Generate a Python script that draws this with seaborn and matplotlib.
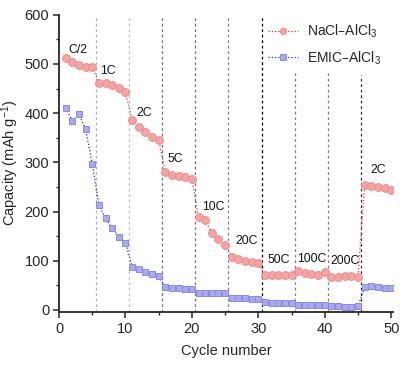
import matplotlib
matplotlib.use("Agg")
import matplotlib.pyplot as plt
from matplotlib.ticker import MultipleLocator
import seaborn as sns
import pandas as pd

# capacity, 5 cycles per C-rate
cycles = list(range(1, 51))
nacl = [513, 504, 498, 493, 494, 462, 461, 457, 452, 443,
        386, 372, 361, 352, 346, 280, 275, 273, 270, 267,
        188, 182, 156, 144, 132, 108, 103, 100, 98, 95,
        72, 72, 71, 71, 72, 79, 75, 73, 72, 77,
        67, 66, 68, 70, 66, 254, 251, 249, 247, 243]
emic = [410, 385, 399, 367, 297, 213, 186, 166, 149, 137,
        88, 83, 78, 73, 69, 47, 45, 44, 43, 42,
        34, 34, 34, 34, 34, 24, 24, 24, 23, 23,
        16, 15, 15, 15, 15, 10, 10, 10, 10, 10,
        8, 7, 6, 6, 7, 47, 49, 47, 45, 44]
rates = ["C/2", "1C", "2C", "5C", "10C", "20C", "50C", "100C", "200C", "2C"]
boundaries = [5.5, 10.5, 15.5, 20.5, 25.5, 30.5, 35.5, 40.5, 45.5]

df = pd.DataFrame({"cycle": cycles, "nacl": nacl, "emic": emic})

sns.set_style("ticks")
plt.rcParams["font.family"] = ["Liberation Sans", "DejaVu Sans"]
plt.rcParams["mathtext.default"] = "regular"

fig = plt.figure(figsize=(4.13, 3.70), dpi=100)
ax = fig.add_axes([0.143, 0.157, 0.809, 0.803])

# rate-change separators
sep_colors = ["#b0b0b0", "#c0c0c0", "#707070", "#707070", "#808080",
              "#000000", "#808080", "#808080", "#303030"]
sep_tops = [600, 600, 600, 600, 600, 600, 488, 486, 478]
for xb, c, top in zip(boundaries, sep_colors, sep_tops):
    ax.vlines(xb, -4, top, colors=c, linestyles=(0, (2.2, 2.2)), linewidth=0.9, zorder=1)

sns.lineplot(data=df, x="cycle", y="nacl", ax=ax, color="#e03a3a",
             linestyle=(0, (1, 1.6)), linewidth=0.9, marker="o", markersize=5.6,
             markerfacecolor="#f6a3a3", markeredgecolor="#ee8a8a", markeredgewidth=0.7,
             label="NaCl–AlCl$_3$", zorder=3)
sns.lineplot(data=df, x="cycle", y="emic", ax=ax, color="#2a2ad8",
             linestyle=(0, (1, 1.6)), linewidth=0.9, marker="s", markersize=5.0,
             markerfacecolor="#a9a9f3", markeredgecolor="#8a8ae8", markeredgewidth=0.7,
             label="EMIC–AlCl$_3$", zorder=3)

# rate labels
label_pos = [(2.9, 529), (7.4, 486), (12.9, 400), (17.5, 307), (23.3, 209),
             (28.3, 141), (33.0, 102), (38.0, 104), (43.0, 100), (48.1, 285)]
for txt, (lx, ly) in zip(rates, label_pos):
    ax.text(lx, ly, txt, ha="center", va="center", fontsize=8.8, color="#111111")

ax.set_xlim(0, 50.3)
ax.set_ylim(-4, 600)
ax.xaxis.set_major_locator(MultipleLocator(10))
ax.xaxis.set_minor_locator(MultipleLocator(5))
ax.yaxis.set_major_locator(MultipleLocator(100))
ax.yaxis.set_minor_locator(MultipleLocator(50))
ax.tick_params(which="major", direction="out", length=4, width=1.1, labelsize=10.5, pad=3)
ax.tick_params(which="minor", direction="out", length=2.5, width=1.0)
for s in ["left", "bottom"]:
    ax.spines[s].set_linewidth(1.3)
sns.despine(ax=ax)

ax.set_xlabel("Cycle number", fontsize=10.5, labelpad=6)
ax.set_ylabel("Capacity (mAh g$^{-1}$)", fontsize=10.5, labelpad=3)

ax.legend(loc="upper right", bbox_to_anchor=(1.0, 1.015), frameon=False, fontsize=10,
          handlelength=2.2, handletextpad=0.6, labelspacing=0.65, numpoints=1,
          markerscale=0.8)

fig.savefig("out.png", dpi=100)
